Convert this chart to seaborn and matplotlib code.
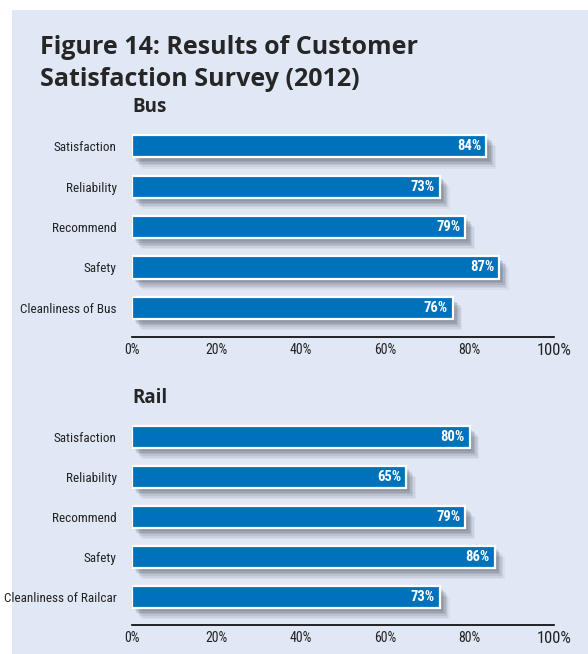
import matplotlib
matplotlib.use("Agg")
import matplotlib.pyplot as plt
import matplotlib.patheffects as pe
from matplotlib.patches import Rectangle
import pandas as pd
import seaborn as sns

sns.set_theme(style="white")
plt.rcParams['font.family'] = ['Roboto Condensed', 'Roboto', 'DejaVu Sans']

# data
bus_items = ["Satisfaction", "Reliability", "Recommend", "Safety", "Cleanliness of Bus"]
bus_values = [84, 73, 79, 87, 76]
rail_items = ["Satisfaction", "Reliability", "Recommend", "Safety", "Cleanliness of Railcar"]
rail_values = [80, 65, 79, 86, 73]
x_ticks = [0, 20, 40, 60, 80, 100]
x_labels = ["0%", "20%", "40%", "60%", "80%", "100%"]

BAR = "#0072bc"
PANEL = "#e1e8f5"

fig = plt.figure(figsize=(5.88, 6.54), dpi=100, facecolor="white")
fig.patches.append(Rectangle((12 / 588, 0), 1, 1 - 10 / 654, transform=fig.transFigure,
                             facecolor=PANEL, edgecolor="none", zorder=-10))

title_font = ["Open Sans", "DejaVu Sans"]
fig.text(40 / 588, 1 - 47 / 654, "Figure 14: Results of Customer", fontsize=18,
         fontweight="bold", ha="left", va="center", family=title_font)
fig.text(40 / 588, 1 - 79 / 654, "Satisfaction Survey (2012)", fontsize=18,
         fontweight="bold", ha="left", va="center", family=title_font)

# soft drop shadow built from a few offset layers
shadow = [pe.SimplePatchShadow(offset=(o, -o * 1.15), shadow_rgbFace="#3e4454", alpha=a)
          for o, a in [(7, 0.06), (6, 0.08), (5, 0.1), (4, 0.12), (3, 0.14), (2, 0.12)]]
shadow.append(pe.Normal())


def panel(rect, items, values, title, ybottom):
    ax = fig.add_axes(rect)
    ax.set_facecolor("none")
    df = pd.DataFrame({"item": items, "value": values})
    sns.barplot(data=df, x="value", y="item", orient="h", color=BAR, width=0.55,
                saturation=1, edgecolor="white", linewidth=1.6, ax=ax)
    for p in ax.patches:
        p.set_path_effects(shadow)
    for i, v in enumerate(values):
        ax.text(v - 1.2, i, f"{v}%", color="white", fontweight="bold", fontsize=10.5,
                ha="right", va="center")
    ax.set_xlim(0, 100)
    ax.set_ylim(ybottom, -0.5)
    ax.set_xticks(x_ticks)
    ax.set_xticklabels(x_labels, fontsize=10)
    ax.get_xticklabels()[-1].set_fontsize(12)
    ax.tick_params(axis="x", length=0, pad=4, colors="#222222")
    ax.tick_params(axis="y", length=0, pad=11, labelsize=9.5, colors="#222222")
    ax.set_xlabel("")
    ax.set_ylabel("")
    for s in ["top", "right", "left"]:
        ax.spines[s].set_visible(False)
    ax.spines["bottom"].set_color("black")
    ax.spines["bottom"].set_linewidth(1.2)
    ax.text(0, -0.97, title, fontsize=13.5, fontweight="bold",
            ha="left", va="center", family=title_font)
    return ax


panel([132 / 588, 1 - 337 / 654, 422 / 588, 211 / 654], bus_items, bus_values, "Bus", 4.72)
panel([132 / 588, 1 - 625 / 654, 422 / 588, 208 / 654], rail_items, rail_values, "Rail", 4.7)

fig.savefig("out.png", dpi=100, facecolor="white")
